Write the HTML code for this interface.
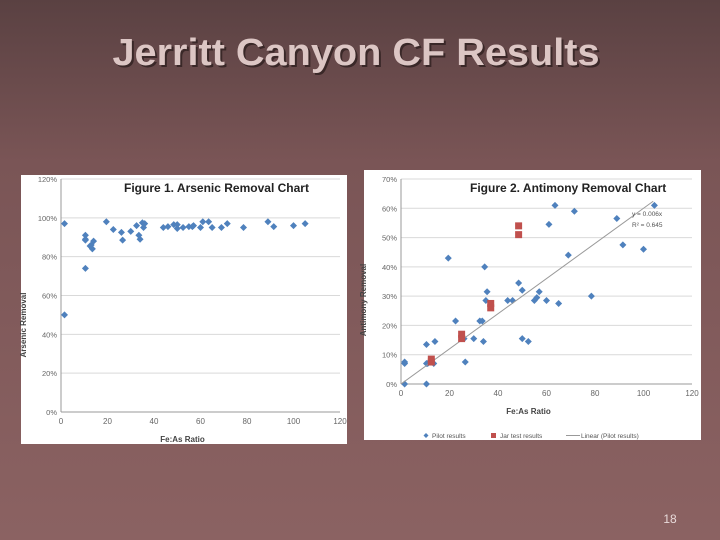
<!DOCTYPE html>
<html><head><meta charset="utf-8"><style>
body{margin:0;width:720px;height:540px;overflow:hidden;background:linear-gradient(#5a4142,#7a5556 30%,#8b6262 100%);font-family:"Liberation Sans",sans-serif}
svg{position:absolute;left:0;top:0}
</style></head><body>
<svg id="s" width="720" height="540">
<text x="356" y="65" text-anchor="middle" font-size="38" font-weight="bold" fill="#3a2828" textLength="487" lengthAdjust="spacingAndGlyphs" transform="translate(2,2)">Jerritt Canyon CF Results</text>
<text x="356" y="65" text-anchor="middle" font-size="38" font-weight="bold" fill="#dcc6c4" textLength="487" lengthAdjust="spacingAndGlyphs">Jerritt Canyon CF Results</text>
<text x="670" y="523" text-anchor="middle" font-size="12" fill="#e8dada">18</text>
<rect x="21" y="175" width="326" height="269" fill="#fff"/>
<rect x="364" y="170" width="337" height="270" fill="#fff"/>
<g id="c1"></g><g id="c2"></g>
</svg>
<script>
const asX=[1.5,1.5,10.5,10.5,10.5,10.5,12.5,13.5,14,13,19.5,22.5,26,26.5,30,32.5,33.5,34,35,35.5,36,44,46,48.5,50,50,52.5,55,57,56.5,60,61,63.5,65,69,71.5,78.5,89,91.5,100,105];
const asY=[97,50,89,91,88.5,74,85.5,84,88,86,98,94,92.5,88.5,93,96,91,89,97.5,95,97,95,95.5,96.5,96.5,94.5,95,95.5,96,95.5,95,98,98,95,95,97,95,98,95.5,96,97];
const sbX=[1.5,1.5,1.5,10.5,10.5,10.5,11,13.5,14,19.5,22.5,26,26.5,30,32.5,33.5,34,34.5,35,35.5,44,46,48.5,50,50,52.5,55,56,57,60,61,63.5,65,69,71.5,78.5,89,91.5,100,104.5];
const sbY=[7.5,7,0,0,13.5,7,7,7,14.5,43,21.5,15.5,7.5,15.5,21.5,21.5,14.5,40,28.5,31.5,28.5,28.5,34.5,32,15.5,14.5,28.5,29.5,31.5,28.5,54.5,61,27.5,44,59,30,56.5,47.5,46,61];
const jarX=[12.5,12.5,25,25,37,37,48.5,48.5];
const jarY=[8.5,7.5,17,15.5,27.5,26,54,51];
const xTicks=[0,20,40,60,80,100,120];
const y1Ticks=[0,20,40,60,80,100,120];
const y2Ticks=[0,10,20,30,40,50,60,70];
const slope=0.006, trendEnd=104;
const NS="http://www.w3.org/2000/svg";
function mk(p,t,a){const e=document.createElementNS(NS,t);for(const k in a)e.setAttribute(k,a[k]);p.appendChild(e);return e;}
function chart(g,x0,x1,ytop,ybot,ymax,yT,title,tx,ylab,xs,ys,ylabY){
 const X=v=>x0+(x1-x0)*v/120, Y=v=>ybot-(ybot-ytop)*v/ymax;
 yT.forEach(t=>{const l=mk(g,'line',{x1:x0,x2:x1,y1:Y(t),y2:Y(t),stroke:t?'#d9d9d9':'#999','stroke-width':1});
  
  const tt=mk(g,'text',{x:x0-4,y:Y(t)+3,'text-anchor':'end','font-size':7.5,fill:'#666'});tt.textContent=t+'%';
  });
 const ax=mk(g,'line',{x1:x0,x2:x0,y1:ytop,y2:ybot,stroke:'#999'});
 
 xTicks.forEach(t=>{const tt=mk(g,'text',{x:X(t),y:ybot+12,'text-anchor':'middle','font-size':8,fill:'#666'});tt.textContent=t;
  });
 const ti=mk(g,'text',{x:tx,y:ytop+13,'font-size':12,'font-weight':'bold',fill:'#222'});ti.textContent=title;
 
 const xl=mk(g,'text',{x:(x0+x1)/2-18,y:ybot+30,'text-anchor':'middle','font-size':8,'font-weight':'bold',fill:'#444'});xl.textContent='Fe:As Ratio';
 
 const yl=mk(g,'text',{transform:`translate(${x0-35},${ylabY}) rotate(-90)`,'text-anchor':'middle','font-size':8,'font-weight':'bold',fill:'#444'});yl.textContent=ylab;
 
 xs.forEach((v,i)=>{const cx=X(v),cy=Y(ys[i]);const p=mk(g,'path',{d:`M${cx} ${cy-3.5}L${cx+3.5} ${cy}L${cx} ${cy+3.5}L${cx-3.5} ${cy}Z`,fill:'#4f81bd'});
  });
 return {X,Y};
}
const c1=document.getElementById('c1'),c2=document.getElementById('c2');
chart(c1,61,340,179,412,120,y1Ticks,'Figure 1.  Arsenic Removal Chart',124,'Arsenic Removal',asX,asY,325);
const a2=chart(c2,401,692,179,384,70,y2Ticks,'Figure 2.  Antimony Removal Chart',470,'Antimony Removal',sbX,sbY,300);
const tl=mk(c2,'line',{x1:a2.X(0),y1:a2.Y(0),x2:a2.X(trendEnd),y2:a2.Y(slope*trendEnd*100),stroke:'#999','stroke-width':1});

jarX.forEach((v,i)=>{const r=mk(c2,'rect',{x:a2.X(v)-3.5,y:a2.Y(jarY[i])-3.5,width:7,height:7,fill:'#c0504d'});
 });
[['y = 0.006x',216],['R² = 0.645',227]].forEach(a=>{const t=mk(c2,'text',{x:632,y:a[1],'font-size':6.5,fill:'#555'});t.textContent=a[0];
 });
const lg=mk(c2,'g',{});
mk(lg,'path',{d:'M426 433L428.5 435.5L426 438L423.5 435.5Z',fill:'#4f81bd'});
mk(lg,'rect',{x:491,y:433,width:5,height:5,fill:'#c0504d'});
mk(lg,'line',{x1:566,x2:580,y1:435.5,y2:435.5,stroke:'#999'});
[['Pilot results',432],['Jar test results',500],['Linear (Pilot results)',581]].forEach(a=>{const t=mk(lg,'text',{x:a[1],y:438,'font-size':6.5,fill:'#555'});t.textContent=a[0];
 });
</script>
</body></html>
